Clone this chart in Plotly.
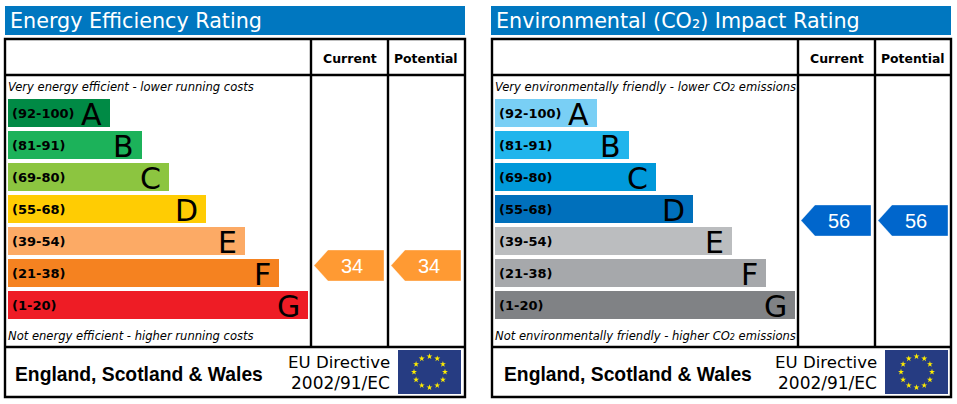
import math
import plotly.graph_objects as go

bands = ["(92-100)", "(81-91)", "(69-80)", "(55-68)", "(39-54)", "(21-38)", "(1-20)"]
letters = ["A", "B", "C", "D", "E", "F", "G"]
bar_lengths = [102, 134, 161, 198, 237, 271, 300]
energy_colors = ["#008a45", "#1cb25a", "#8cc540", "#ffcc03", "#fcaa65", "#f58220", "#ee1c25"]
co2_colors = ["#79cff5", "#21b5ec", "#0099da", "#0070bc", "#bbbdbf", "#a6a8ab", "#808285"]
energy_current = 34
energy_potential = 34
co2_current = 56
co2_potential = 56
energy_title = "Energy Efficiency Rating"
co2_title = "Environmental (CO₂) Impact Rating"
energy_top = "Very energy efficient - lower running costs"
energy_bottom = "Not energy efficient - higher running costs"
co2_top = "Very environmentally friendly - lower CO<span style='font-size:8px'>2</span> emissions"
co2_bottom = "Not environmentally friendly - higher CO<span style='font-size:8px'>2</span> emissions"

BLUE = "#0077c0"
SANS = "DejaVu Sans"
ARIAL = "Liberation Sans"
PANEL_SHIFT = 487

fig = go.Figure()
shapes = []
notes = []


def note(x, y, text, size, color="black", font=SANS, anchor="left"):
    notes.append(dict(x=x, y=y, text=text, showarrow=False, xanchor=anchor, yanchor="middle",
                      xref="x", yref="y", font=dict(family=font, size=size, color=color),
                      borderpad=0, borderwidth=0, align=anchor))


def rating_y(rating):
    return 265.5 - (rating - 34) * 45 / 22


def arrow(col_left, rating, color):
    y = rating_y(rating)
    xs = [col_left, col_left + 14, col_left + 70, col_left + 70, col_left + 14, col_left]
    ys = [y, y - 15.5, y - 15.5, y + 15.5, y + 15.5, y]
    fig.add_trace(go.Scatter(x=xs, y=ys, mode="lines", fill="toself", fillcolor=color,
                             line=dict(color="rgba(255,255,255,0.35)", width=1),
                             hoverinfo="skip", showlegend=False))
    note(col_left + 38, y, str(rating), 20, "white", ARIAL, "center")


def panel(dx, title, colors, top_text, bottom_text, current, potential, arrow_color, right_end, bar_left, bar_right):
    shapes.append(dict(type="rect", x0=bar_left, x1=bar_right, y0=6, y1=35,
                       fillcolor=BLUE, line_width=0, layer="below"))
    note(bar_left + 5, 21, title, 20.7, "white")

    # table frame
    line = dict(color="black", width=2.4)
    shapes.append(dict(type="rect", x0=5 + dx, x1=right_end, y0=39, y1=397, line=line))
    shapes.append(dict(type="line", x0=5 + dx, x1=right_end, y0=75, y1=75, line=line))
    shapes.append(dict(type="line", x0=5 + dx, x1=right_end, y0=347, y1=347, line=line))
    shapes.append(dict(type="line", x0=311 + dx, x1=311 + dx, y0=39, y1=347, line=line))
    shapes.append(dict(type="line", x0=388 + dx, x1=388 + dx, y0=39, y1=347, line=line))

    note(349.5 + dx, 58, "<b>Current</b>", 12.5, anchor="center")
    note(426 + dx, 58, "<b>Potential</b>", 12.4, anchor="center")

    note(8 + dx, 87, "<i>" + top_text + "</i>", 11.55)
    note(8 + dx, 336, "<i>" + bottom_text + "</i>", 11.55)

    rows = list(range(len(bands)))
    centers = [113 + 32 * i for i in rows]
    fig.add_trace(go.Bar(y=centers, x=bar_lengths, base=8 + dx, width=28, orientation="h",
                         marker=dict(color=colors, line_width=0),
                         hoverinfo="skip", showlegend=False))
    for i in rows:
        note(12 + dx, centers[i], "<b>" + bands[i] + "</b>", 13)
        note(8 + dx + bar_lengths[i] - 8, centers[i] + 1, letters[i], 30, anchor="right")

    arrow(314 + dx, current, arrow_color)
    arrow(391 + dx, potential, arrow_color)

    note(139 + dx + (2 if dx else 0), 374, "<b>England, Scotland &amp; Wales</b>", 19.3, font=ARIAL, anchor="center")
    note(390 + dx, 362, "EU Directive", 16.6, anchor="right")
    note(390 + dx, 383, "2002/91/EC", 17, anchor="right")

    # EU flag
    shapes.append(dict(type="rect", x0=398 + dx, x1=461 + dx, y0=350, y1=394,
                       fillcolor="#263c82", line_width=0, layer="below"))
    stars = [i * math.pi / 6 for i in range(12)]
    fig.add_trace(go.Scatter(x=[429.5 + dx + 15.5 * math.sin(a) for a in stars],
                             y=[372 - 15.5 * math.cos(a) for a in stars],
                             mode="markers", marker=dict(symbol="star", size=4.5, color="#ffed00", line_width=0),
                             hoverinfo="skip", showlegend=False))


panel(0, energy_title, energy_colors, energy_top, energy_bottom,
      energy_current, energy_potential, "#ff9a33", 465, 5, 465)
panel(PANEL_SHIFT, co2_title, co2_colors, co2_top, co2_bottom,
      co2_current, co2_potential, "#0066cc", 951, 491, 951)

fig.update_layout(
    width=957, height=404, margin=dict(l=0, r=0, t=0, b=0),
    paper_bgcolor="white", plot_bgcolor="white",
    barmode="overlay", hovermode=False, showlegend=False,
    xaxis=dict(range=[0, 957], visible=False, fixedrange=True),
    yaxis=dict(range=[404, 0], visible=False, fixedrange=True),
    shapes=shapes, annotations=notes,
)

fig.write_html("out.html", config={"displayModeBar": False},
               post_script="document.body.style.margin='0';")
